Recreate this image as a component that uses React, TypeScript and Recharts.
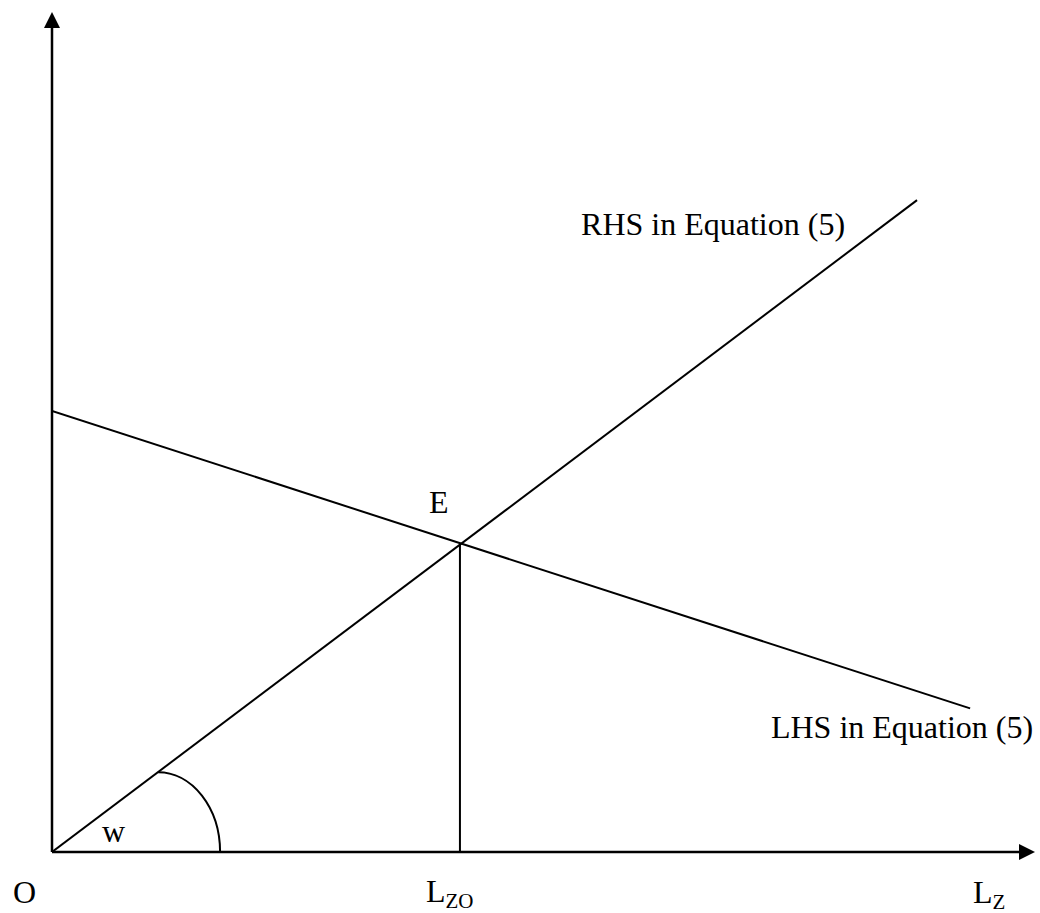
import { LineChart, Line, XAxis, YAxis, ReferenceDot, ReferenceLine } from 'recharts'

// straight lines (x, y in axis units 0..100)
const rhsX = [0, 88.0]
const rhsY = [0, 77.6]
const lhsX = [0, 93.4]
const lhsY = [52.5, 17.1]
const dropX = [41.5, 41.5]
const dropY = [0, 36.7]

// angle mark: from the point on the RHS line down to the x axis
const arcX = [10.8, 17.1]
const arcY = [9.5, 0]

const plainLabels = ['O', 'w', 'E', 'RHS in Equation (5)', 'LHS in Equation (5)']
const subLabels = [
  { main: 'L', sub: 'ZO' },
  { main: 'L', sub: 'Z' },
]

const FONT = '"Liberation Serif", "Times New Roman", serif'

const toRows = (xs: number[], ys: number[]) => xs.map((x, i) => ({ x, y: ys[i] }))

const textShape =
  (text: string, dx: number, dy: number, anchor: 'start' | 'end' = 'start') =>
  (p: any) => (
    <text x={p.cx + dx} y={p.cy + dy} textAnchor={anchor} fontFamily={FONT} fontSize={32} fill="#000">
      {text}
    </text>
  )

const subShape = (main: string, sub: string, dx: number, dy: number) => (p: any) => (
  <text x={p.cx + dx} y={p.cy + dy} fontFamily={FONT} fontSize={32} fill="#000">
    <tspan>{main}</tspan>
    <tspan fontSize={21} dy={6}>{sub}</tspan>
  </text>
)

const arrowUp = (p: any) => (
  <path d={`M ${p.cx} ${p.cy} L ${p.cx - 8} ${p.cy + 16} L ${p.cx + 8} ${p.cy + 16} Z`} fill="#000" />
)

const arrowRight = (p: any) => (
  <path d={`M ${p.cx} ${p.cy} L ${p.cx - 16} ${p.cy - 8} L ${p.cx - 16} ${p.cy + 8} Z`} fill="#000" />
)

const arcShape = (p: any) => (
  <path
    d={`M ${p.x1} ${p.y1} A ${p.x2 - p.x1} ${p.y2 - p.y1} 0 0 1 ${p.x2} ${p.y2}`}
    fill="none"
    stroke="#000"
    strokeWidth={2}
  />
)

export default function App() {
  return (
    <div style={{ position: 'absolute', left: 0, top: 0, width: 1040, height: 913, background: '#fff' }}>
      <LineChart width={1040} height={913} margin={{ top: 12, right: 5, left: 52, bottom: 61 }}>
        <XAxis type="number" dataKey="x" domain={[0, 100]} allowDataOverflow hide />
        <YAxis type="number" dataKey="y" domain={[0, 100]} allowDataOverflow hide />

        {/* axes */}
        <ReferenceLine segment={[{ x: 0, y: 0 }, { x: 99, y: 0 }]} stroke="#000" strokeWidth={2.5} />
        <ReferenceLine segment={[{ x: 0, y: 0 }, { x: 0, y: 99 }]} stroke="#000" strokeWidth={2.5} />
        <ReferenceDot x={0} y={100} r={0} shape={arrowUp} />
        <ReferenceDot x={100} y={0} r={0} shape={arrowRight} />

        <Line data={toRows(rhsX, rhsY)} dataKey="y" type="linear" stroke="#000" strokeWidth={2} dot={false} isAnimationActive={false} />
        <Line data={toRows(lhsX, lhsY)} dataKey="y" type="linear" stroke="#000" strokeWidth={2} dot={false} isAnimationActive={false} />
        <Line data={toRows(dropX, dropY)} dataKey="y" type="linear" stroke="#000" strokeWidth={2} dot={false} isAnimationActive={false} />
        <ReferenceLine
          segment={[
            { x: arcX[0], y: arcY[0] },
            { x: arcX[1], y: arcY[1] },
          ]}
          shape={arcShape}
        />

        <ReferenceDot x={0} y={0} r={0} shape={textShape(plainLabels[0], -39, 51)} />
        <ReferenceDot x={0} y={0} r={0} shape={textShape(plainLabels[1], 50, -10)} />
        <ReferenceDot x={dropX[1]} y={dropY[1]} r={0} shape={textShape(plainLabels[2], -31, -31)} />
        <ReferenceDot x={rhsX[1]} y={rhsY[1]} r={0} shape={textShape(plainLabels[3], -72, 35, 'end')} />
        <ReferenceDot x={lhsX[1]} y={lhsY[1]} r={0} shape={textShape(plainLabels[4], 63, 30, 'end')} />
        <ReferenceDot x={dropX[0]} y={0} r={0} shape={subShape(subLabels[0].main, subLabels[0].sub, -34, 50)} />
        <ReferenceDot x={100} y={0} r={0} shape={subShape(subLabels[1].main, subLabels[1].sub, -62, 51)} />
      </LineChart>
    </div>
  )
}
